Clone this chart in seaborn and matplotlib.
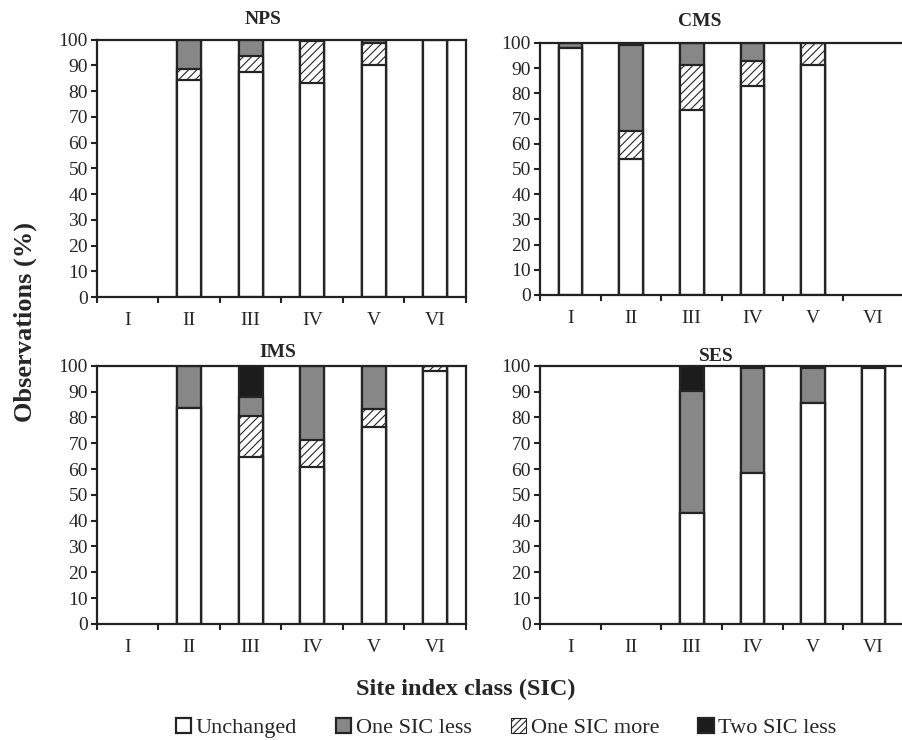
import numpy as np
import pandas as pd
import matplotlib
matplotlib.use("Agg")
import matplotlib.pyplot as plt
from matplotlib.patches import Patch
import seaborn as sns

sns.set_style("ticks")
plt.rcParams['font.family'] = ['Liberation Serif', 'DejaVu Serif']
plt.rcParams['hatch.linewidth'] = 0.8

nan = np.nan
classes = ['I', 'II', 'III', 'IV', 'V', 'VI']

# NPS
nps_unchanged = [nan, 84.2, 87.3, 83.2, 90.2, 100.0]
nps_more      = [nan, 4.3, 6.2, 16.2, 8.5, 0.0]
nps_less      = [nan, 11.5, 6.5, 0.6, 1.3, 0.0]
nps_two       = [nan, 0.0, 0.0, 0.0, 0.0, 0.0]
# CMS
cms_unchanged = [98.0, 53.9, 73.5, 82.8, 91.4, nan]
cms_more      = [0.0, 11.0, 17.9, 9.9, 8.6, nan]
cms_less      = [2.0, 34.4, 8.6, 7.3, 0.0, nan]
cms_two       = [0.0, 0.0, 0.0, 0.0, 0.0, nan]
# IMS
ims_unchanged = [nan, 83.5, 64.8, 60.8, 76.1, 97.9]
ims_more      = [nan, 0.0, 15.8, 10.4, 7.1, 2.1]
ims_less      = [nan, 16.5, 7.4, 28.8, 16.8, 0.0]
ims_two       = [nan, 0.0, 12.0, 0.0, 0.0, 0.0]
# SES
ses_unchanged = [nan, nan, 43.1, 58.3, 85.4, 99.3]
ses_more      = [nan, nan, 0.0, 0.0, 0.0, 0.0]
ses_less      = [nan, nan, 47.1, 40.9, 13.9, 0.0]
ses_two       = [nan, nan, 9.8, 0.0, 0.0, 0.0]

panels = [
    ("NPS", [nps_unchanged, nps_more, nps_less, nps_two]),
    ("CMS", [cms_unchanged, cms_more, cms_less, cms_two]),
    ("IMS", [ims_unchanged, ims_more, ims_less, ims_two]),
    ("SES", [ses_unchanged, ses_more, ses_less, ses_two]),
]

labels = ['Unchanged', 'One SIC less', 'One SIC more', 'Two SIC less']
GRAY = '#878787'
BLACK = '#1c1c1c'
EDGE = '#242424'

# axes rectangles (fig fraction) and title placement
rects = {
    "NPS": [0.1075, 0.5986, 0.409, 0.348],
    "CMS": [0.5987, 0.6014, 0.4035, 0.3405],
    "IMS": [0.1075, 0.1568, 0.409, 0.349],
    "SES": [0.5987, 0.1568, 0.4035, 0.349],
}
title_pos = {"NPS": (0.45, 11), "CMS": (0.44, 12), "IMS": (0.49, 6.5), "SES": (0.485, 3.5)}

fig = plt.figure(figsize=(9.02, 7.4), dpi=100)

for name, (unch, more, less, two) in panels:
    ax = fig.add_axes(rects[name])
    c1 = np.array(unch)
    c2 = c1 + np.array(more)
    c3 = c2 + np.array(less)
    c4 = c3 + np.array(two)
    # draw from the top layer down, each covering the lower part
    layers = [(c4, BLACK, None), (c3, GRAY, None), (c2, 'white', '////'), (c1, 'white', None)]
    for top, col, hatch in layers:
        df = pd.DataFrame({'cls': classes, 'val': top}).dropna()
        sns.barplot(data=df, x='cls', y='val', order=classes, color=col,
                    saturation=1, width=0.39, edgecolor=EDGE, linewidth=1.6,
                    hatch=hatch, errorbar=None, ax=ax)
    ax.set_xlim(-0.5, 5.5)
    ax.set_ylim(0, 100)
    ax.set_yticks(range(0, 101, 10))
    ax.set_xlabel('')
    ax.set_ylabel('')
    ax.set_xticks(np.arange(-0.5, 6.0, 1.0), minor=True)
    ax.tick_params(axis='x', which='major', length=0, pad=11, labelsize=14)
    ax.tick_params(axis='x', which='minor', length=4.5, width=1.5, direction='out', color='#222222')
    ax.tick_params(axis='y', length=4.5, width=1.5, direction='out', labelsize=14, pad=2,
                   color='#222222')
    for sp in ax.spines.values():
        sp.set_visible(True)
        sp.set_linewidth(1.6)
        sp.set_color('#222222')
    xt, pad = title_pos[name]
    ax.set_title(name, x=xt, pad=pad, fontsize=14, fontweight='bold')

fig.text(0.028, 0.565, 'Observations (%)', rotation=90, ha='center', va='center',
         fontsize=19, fontweight='bold')
fig.text(0.516, 0.068, 'Site index class (SIC)', ha='center', va='center',
         fontsize=17.5, fontweight='bold')

handles = [
    Patch(facecolor='white', edgecolor=EDGE, linewidth=1.6),
    Patch(facecolor=GRAY, edgecolor=EDGE, linewidth=1.6),
    Patch(facecolor='white', edgecolor=EDGE, linewidth=0.8, hatch='/////'),
    Patch(facecolor=BLACK, edgecolor=EDGE, linewidth=1.6),
]
fig.legend(handles, labels, loc='center', bbox_to_anchor=(0.561, 0.016), ncol=4,
           frameon=False, fontsize=16, handlelength=0.7, handleheight=0.7,
           handletextpad=0.2, columnspacing=1.75, borderpad=0)

fig.savefig('out.png', dpi=100)
